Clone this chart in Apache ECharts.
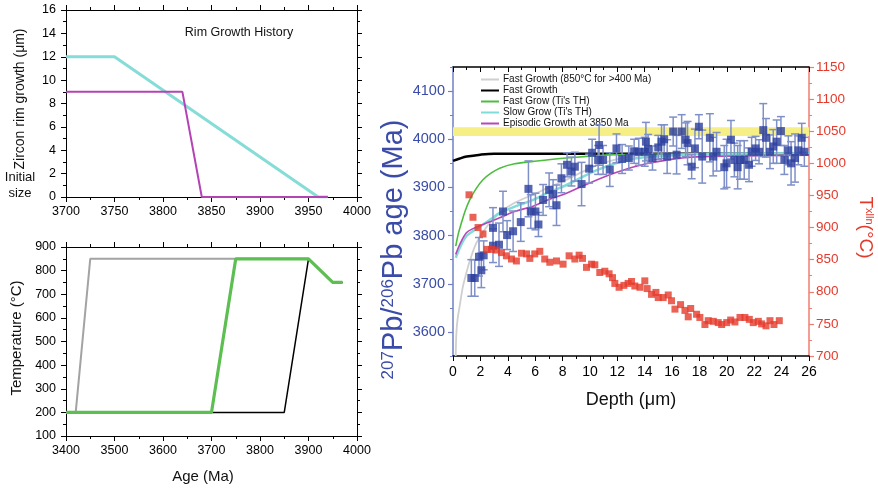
<!DOCTYPE html>
<html>
<head>
<meta charset="utf-8">
<script src="https://cdn.jsdelivr.net/npm/echarts@6/dist/echarts.min.js"></script>
<style>
html,body{margin:0;padding:0;background:#fff;}
#chart{width:878px;height:489px;}
</style>
</head>
<body>
<div id="chart"></div>
<script>
// ---- Rim growth history (top left) ----
const slowRimAge = [3700, 3750, 3960, 3970];
const slowRim = [12, 12, 0, 0];
const episodicRimAge = [3700, 3820, 3840, 3970];
const episodicRim = [9, 9, 0, 0];

// ---- Thermal histories (bottom left) ----
const longHotAge = [3400, 3420, 3450, 3900, 3950, 3970];
const longHotT = [200, 200, 850, 850, 750, 750];
const fastAge = [3400, 3850, 3900, 3950, 3970];
const fastT = [200, 200, 850, 750, 750];
const tiAge = [3400, 3700, 3750, 3900, 3950, 3970];
const tiT = [200, 200, 850, 850, 750, 750];

// ---- Model age profiles vs depth (right) ----
const fastLongDepth = [0.2, 0.25, 0.35, 0.49, 0.73, 1.0, 1.2, 1.71, 2.5, 3.41, 4.5, 5.85, 7.0, 8.29, 10.6, 13.0, 16.0, 26.0];
const fastLongAge = [3550, 3599, 3630, 3654, 3695, 3725, 3745, 3785, 3820, 3847, 3868, 3885, 3900, 3916, 3947, 3964, 3970, 3972];
const fastDepth = [0, 0.5, 1, 2, 3, 26];
const fastAgeProf = [3955, 3960, 3964, 3968, 3970, 3970];
const fastTiDepth = [0.2, 0.4, 0.61, 0.9, 1.22, 1.7, 2.19, 2.8, 3.41, 4.5, 5.85, 8.29, 12, 18, 26];
const fastTiAge = [3778, 3805, 3826, 3852, 3874, 3898, 3916, 3930, 3940, 3949, 3954, 3961, 3968, 3970, 3970];
const slowTiDepth = [0.2, 0.5, 0.98, 1.5, 2.19, 2.8, 3.41, 4.5, 5.85, 7.0, 8.29, 10.6, 13.04, 16, 20, 26];
const slowTiAge = [3754, 3775, 3799, 3810, 3823, 3835, 3847, 3860, 3874, 3890, 3905, 3937, 3959, 3967, 3970, 3971];
const episodicDepth = [0.2, 0.5, 0.98, 1.5, 2.19, 2.8, 3.41, 4.5, 5.85, 7.0, 8.29, 9.39, 11.8, 14.25, 16.7, 18.2, 26];
const episodicAge = [3761, 3782, 3806, 3815, 3823, 3830, 3837, 3850, 3861, 3875, 3888, 3902, 3930, 3950, 3961, 3964, 3967];

// ---- Measured 207Pb/206Pb ages with 2-sigma errors ----
const pbDepth = [1.34, 1.59, 1.90, 2.07, 2.24, 2.92, 2.92, 3.36, 3.65, 3.95, 4.39, 4.95, 5.51, 5.68, 6.02, 6.24, 6.58, 7.02, 7.31, 7.56, 7.92,
  8.33, 8.65, 8.90, 9.39, 9.94, 10.16, 10.60, 10.67, 10.96, 11.45, 11.94, 12.35, 12.84, 13.23, 13.57, 14.00, 14.09, 14.25, 14.57,
  14.99, 15.23, 15.42, 15.64, 16.08, 16.33, 16.70, 16.99, 17.13, 17.43, 17.67, 17.96, 18.20, 18.76, 19.00, 19.25, 19.81, 19.98,
  20.30, 20.55, 20.79, 20.96, 21.27, 21.62, 21.81, 22.10, 22.35, 22.66, 22.86, 23.15, 23.39, 23.64, 23.95, 24.20, 24.49, 24.69,
  24.98, 25.22, 25.47, 25.66];
const pbAge = [3712, 3712, 3756, 3728, 3759, 3816, 3779, 3781, 3850, 3801, 3809, 3828, 3897, 3850, 3850, 3823, 3874, 3895, 3886, 3863, 3919,
  3947, 3933, 3943, 3907, 3939, 3972, 3957, 3988, 3957, 3937, 3981, 3959, 3961, 3975, 3974, 3974, 3995, 3980, 3961,
  3983, 3995, 4000, 3964, 4016, 3968, 4016, 3999, 3992, 3943, 3981, 4026, 3964, 4003, 3964, 3974, 3942, 3950,
  3999, 3957, 3942, 3957, 3957, 3947, 3974, 3981, 3974, 4019, 4003, 3974, 3985, 3995, 4017, 3957, 3977, 3950,
  3961, 3977, 4003, 3974];
const pbErr = [38, 38, 40, 36, 30, 42, 35, 45, 42, 30, 42, 40, 58, 35, 38, 25, 32, 35, 30, 42, 30,
  25, 30, 30, 45, 30, 28, 30, 42, 30, 35, 30, 30, 25, 25, 28, 30, 40, 30, 25,
  25, 35, 30, 35, 30, 40, 35, 35, 45, 25, 40, 25, 55, 50, 40, 40, 45, 50,
  40, 35, 45, 40, 40, 35, 30, 25, 25, 55, 40, 35, 35, 45, 30, 30, 30, 45,
  50, 30, 30, 30];

// ---- Ti-in-zircon crystallisation temperatures ----
const tDepth = [1.17, 1.46, 1.83, 2.19, 2.49, 2.81, 3.17, 3.54, 3.90, 4.27, 4.63, 5.00, 5.37, 5.61, 5.97, 6.34, 6.70, 7.07, 7.56,
  8.04, 8.48, 8.90, 9.21, 9.46, 9.75, 10.12, 10.36, 10.72, 11.09, 11.40, 11.65, 11.82, 12.13, 12.48, 12.79, 13.04, 13.28,
  13.65, 14.01, 14.18, 14.50, 14.82, 14.99, 15.35, 15.72, 15.96, 16.21, 16.62, 16.94, 17.18, 17.36, 17.79, 18.03, 18.40,
  18.64, 19.01, 19.37, 19.62, 19.99, 20.28, 20.59, 20.96, 21.32, 21.64, 21.93, 22.30, 22.54, 22.86, 23.15, 23.44, 23.83];
const tXlln = [951, 916, 900, 890, 866, 866, 865, 861, 856, 851, 848, 860, 859, 852, 859, 863, 851, 846, 848,
  843, 856, 851, 857, 852, 838, 843, 842, 830, 832, 828, 822, 813, 807, 810, 813, 816, 809,
  807, 817, 805, 796, 799, 791, 791, 795, 786, 773, 780, 771, 761, 774, 765, 760, 749,
  755, 754, 752, 749, 752, 756, 753, 760, 760, 757, 752, 754, 750, 747, 755, 749, 755];

// Reference band (yellow)
const bandAge = [4007, 4025];

// Tick values of the age axis
const ageTicks = [3600, 3700, 3800, 3900, 4000, 4100];
const ageMinorTicks = [3550, 3650, 3750, 3850, 3950, 4050, 4150];

const legendNames = ['Fast Growth (850°C for >400 Ma)', 'Fast Growth', "Fast Grow (Ti's TH)", "Slow Grow (Ti's TH)", 'Episodic Growth at 3850 Ma'];

const FONT = '"Liberation Sans", Arial, Helvetica, sans-serif';
const BLUE = '#3a4ca8';
const BLUE_LINE = '#6f80c4';
const RED = '#e5392b';
const RED_LINE = '#ef7d72';
const plain = v => String(v);

const zip = (a, b) => a.map((v, i) => [v, b[i]]);

function boxAxis(gridIndex, pos, min, max, interval, showLabel, extra) {
  return Object.assign({
    gridIndex, type: 'value', position: pos, min, max, interval,
    axisLine: { onZero: false, lineStyle: { color: '#000', width: 1 } },
    axisTick: { inside: false, length: 5, lineStyle: { color: '#000', width: 1 } },
    minorTick: { show: true, splitNumber: 2, length: 3, lineStyle: { color: '#000', width: 1 } },
    axisLabel: { show: showLabel, color: '#000', fontSize: 12.5, fontFamily: FONT, formatter: plain,
      margin: (pos === 'left' || pos === 'right') ? 10 : 8 },
    splitLine: { show: false }, minorSplitLine: { show: false }
  }, extra || {});
}

const chart = echarts.init(document.getElementById('chart'), null, { renderer: 'canvas' });

const option = {
  animation: false,
  backgroundColor: '#fff',
  textStyle: { fontFamily: FONT },
  grid: [
    { left: 66, top: 10, width: 291, height: 187 },
    { left: 66, top: 247, width: 291, height: 189 },
    { left: 453, top: 67, width: 356, height: 289 }
  ],
  legend: {
    data: legendNames,
    orient: 'vertical', left: 481, top: 74, padding: 0,
    icon: 'rect', itemWidth: 18, itemHeight: 2, itemGap: 0,
    textStyle: { fontSize: 10, color: '#111', fontFamily: FONT, lineHeight: 11, padding: [0, 0, 0, -1] },
    selectedMode: false
  },
  xAxis: [
    boxAxis(0, 'bottom', 3700, 4000, 50, true),
    boxAxis(0, 'top', 3700, 4000, 50, false),
    boxAxis(1, 'bottom', 3400, 4000, 100, true),
    boxAxis(1, 'top', 3400, 4000, 100, false),
    boxAxis(2, 'bottom', 0, 26, 2, true, {
      axisLine: { onZero: false, lineStyle: { color: '#000', width: 1.5 } },
      axisLabel: { color: '#000', fontSize: 14, fontFamily: FONT, margin: 9, formatter: plain }
    }),
    boxAxis(2, 'top', 0, 26, 2, false, {
      axisLine: { onZero: false, lineStyle: { color: '#000', width: 1.5 } },
      axisTick: { inside: true, length: 5, lineStyle: { color: '#000' } },
      minorTick: { show: true, splitNumber: 2, length: 3, lineStyle: { color: '#000' } }
    })
  ],
  yAxis: [
    boxAxis(0, 'left', 0, 16, 2, true),
    boxAxis(0, 'right', 0, 16, 2, false),
    boxAxis(1, 'left', 100, 900, 100, true),
    boxAxis(1, 'right', 100, 900, 100, false),
    {
      gridIndex: 2, type: 'value', position: 'left', min: 3550, max: 4150,
      axisLine: { onZero: false, lineStyle: { color: BLUE_LINE, width: 1.5 } },
      axisTick: { inside: false, length: 5, customValues: ageTicks, lineStyle: { color: BLUE_LINE, width: 1.2 } },
      axisLabel: { color: BLUE, fontSize: 14.5, fontFamily: FONT, margin: 8, customValues: ageTicks, formatter: plain },
      splitLine: { show: false },
      name: '{s|207}{n|Pb/}{s|206}{n|Pb age (Ma)}',
      nameLocation: 'middle', nameRotate: 90, nameGap: 42,
      nameTextStyle: {
        color: BLUE,
        padding: [0, 76, 0, 0],
        rich: {
          s: { fontSize: 17, fontFamily: FONT, color: BLUE, padding: [0, 0, 13, 0] },
          n: { fontSize: 29, fontFamily: FONT, color: BLUE }
        }
      }
    },
    {
      gridIndex: 2, type: 'value', position: 'left', min: 3550, max: 4150,
      axisLine: { show: false },
      axisTick: { inside: false, length: 3, customValues: ageMinorTicks, lineStyle: { color: BLUE_LINE, width: 1 } },
      axisLabel: { show: false },
      splitLine: { show: false }
    },
    {
      gridIndex: 2, type: 'value', position: 'right', min: 700, max: 1150, interval: 50,
      axisLine: { onZero: false, lineStyle: { color: RED_LINE, width: 1.5 } },
      axisTick: { inside: false, length: 5, lineStyle: { color: RED_LINE, width: 1.2 } },
      minorTick: { show: true, splitNumber: 2, length: 3, lineStyle: { color: RED_LINE } },
      axisLabel: { color: RED, fontSize: 13.5, fontFamily: FONT, margin: 7, formatter: plain },
      splitLine: { show: false }, minorSplitLine: { show: false },
      name: '{n|T}{s|xlln}{n|(°C)}',
      nameLocation: 'middle', nameRotate: -90, nameGap: 46,
      nameTextStyle: {
        color: RED,
        padding: [0, 0, 0, 32],
        rich: {
          s: { fontSize: 11, fontFamily: FONT, color: RED, padding: [0, 0, 9, 0] },
          n: { fontSize: 19, fontFamily: FONT, color: RED }
        }
      }
    }
  ],
  series: [
    // top-left rim growth
    { type: 'line', xAxisIndex: 0, yAxisIndex: 0, data: zip(slowRimAge, slowRim), symbol: 'none',
      lineStyle: { color: '#86dcd6', width: 3 }, z: 3 },
    { type: 'line', xAxisIndex: 0, yAxisIndex: 0, data: zip(episodicRimAge, episodicRim), symbol: 'none',
      lineStyle: { color: '#b443b4', width: 2 }, z: 4 },
    // bottom-left temperature histories
    { type: 'line', xAxisIndex: 2, yAxisIndex: 2, data: zip(longHotAge, longHotT), symbol: 'none',
      lineStyle: { color: '#a3a3a3', width: 2 }, z: 3 },
    { type: 'line', xAxisIndex: 2, yAxisIndex: 2, data: zip(fastAge, fastT), symbol: 'none',
      lineStyle: { color: '#000', width: 1.5 }, z: 4 },
    { type: 'line', xAxisIndex: 2, yAxisIndex: 2, data: zip(tiAge, tiT), symbol: 'none',
      lineStyle: { color: '#5dbe51', width: 3.2 }, z: 5 },
    // right: model age profiles
    { name: legendNames[0], type: 'line', xAxisIndex: 4, yAxisIndex: 4, data: zip(fastLongDepth, fastLongAge),
      symbol: 'none', smooth: 0.35, lineStyle: { color: '#cfcfcf', width: 1.8 }, itemStyle: { color: '#cfcfcf' }, z: 3,
      markArea: { silent: true, itemStyle: { color: '#f6ef86' },
        data: [[{ yAxis: bandAge[0], xAxis: 0 }, { yAxis: bandAge[1], xAxis: 26 }]] } },
    { name: legendNames[1], type: 'line', xAxisIndex: 4, yAxisIndex: 4, data: zip(fastDepth, fastAgeProf),
      symbol: 'none', smooth: 0.35, lineStyle: { color: '#000', width: 2.5 }, itemStyle: { color: '#000' }, z: 4 },
    { name: legendNames[2], type: 'line', xAxisIndex: 4, yAxisIndex: 4, data: zip(fastTiDepth, fastTiAge),
      symbol: 'none', smooth: 0.35, lineStyle: { color: '#4dbd3f', width: 1.6 }, itemStyle: { color: '#4dbd3f' }, z: 4 },
    { name: legendNames[3], type: 'line', xAxisIndex: 4, yAxisIndex: 4, data: zip(slowTiDepth, slowTiAge),
      symbol: 'none', smooth: 0.35, lineStyle: { color: '#80dcd8', width: 2.5 }, itemStyle: { color: '#80dcd8' }, z: 4 },
    { name: legendNames[4], type: 'line', xAxisIndex: 4, yAxisIndex: 4, data: zip(episodicDepth, episodicAge),
      symbol: 'none', smooth: 0.35, lineStyle: { color: '#b846b8', width: 1.6 }, itemStyle: { color: '#b846b8' }, z: 4 },
    // error bars of the measured ages
    {
      type: 'custom', xAxisIndex: 4, yAxisIndex: 4, z: 5,
      data: pbDepth.map((d, i) => [d, pbAge[i] - pbErr[i], pbAge[i] + pbErr[i]]),
      renderItem: function (params, api) {
        const lo = api.coord([api.value(0), api.value(1)]);
        const hi = api.coord([api.value(0), api.value(2)]);
        const w = 4;
        const st = { stroke: '#7f90c8', lineWidth: 1.5 };
        return {
          type: 'group', children: [
            { type: 'line', shape: { x1: lo[0], y1: lo[1], x2: hi[0], y2: hi[1] }, style: st },
            { type: 'line', shape: { x1: lo[0] - w, y1: lo[1], x2: lo[0] + w, y2: lo[1] }, style: st },
            { type: 'line', shape: { x1: hi[0] - w, y1: hi[1], x2: hi[0] + w, y2: hi[1] }, style: st }
          ]
        };
      }
    },
    { type: 'scatter', xAxisIndex: 4, yAxisIndex: 4, data: zip(pbDepth, pbAge), symbol: 'rect', symbolSize: 8,
      itemStyle: { color: '#2c3e9d' }, z: 6 },
    { type: 'scatter', xAxisIndex: 4, yAxisIndex: 6, data: zip(tDepth, tXlln), symbol: 'rect', symbolSize: 7,
      itemStyle: { color: RED }, z: 6 }
  ],
  graphic: [
    { type: 'text', x: 239, y: 33, style: { text: 'Rim Growth History', font: '12.5px ' + FONT, fill: '#111', align: 'center', verticalAlign: 'middle' } },
    { type: 'text', x: 20, y: 99, rotation: Math.PI / 2, style: { text: 'Zircon rim growth (μm)', font: '14px ' + FONT, fill: '#111', align: 'center', verticalAlign: 'middle' } },
    { type: 'text', x: 20, y: 177, style: { text: 'Initial', font: '13px ' + FONT, fill: '#111', align: 'center', verticalAlign: 'middle' } },
    { type: 'text', x: 20, y: 193, style: { text: 'size', font: '13px ' + FONT, fill: '#111', align: 'center', verticalAlign: 'middle' } },
    { type: 'text', x: 17, y: 338, rotation: Math.PI / 2, style: { text: 'Temperature (°C)', font: '15px ' + FONT, fill: '#111', align: 'center', verticalAlign: 'middle' } },
    { type: 'text', x: 203, y: 477, style: { text: 'Age (Ma)', font: '15px ' + FONT, fill: '#111', align: 'center', verticalAlign: 'middle' } },
    { type: 'text', x: 631, y: 400, style: { text: 'Depth (μm)', font: '18px ' + FONT, fill: '#111', align: 'center', verticalAlign: 'middle' } }
  ]
};

chart.setOption(option);
</script>
</body>
</html>
